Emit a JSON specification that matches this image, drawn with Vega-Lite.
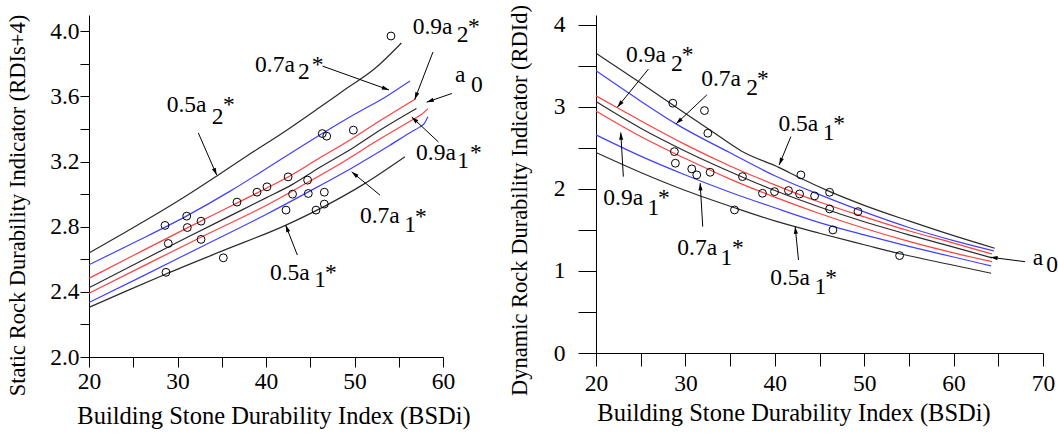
{
"$schema": "https://vega.github.io/schema/vega-lite/v6.json",
"autosize": {"type": "none"},
"padding": {"left": 89, "top": 15, "right": 969, "bottom": 419},
"background": "white",
"spacing": 153,
"bounds": "flush",
"resolve": {"scale": {"x": "independent", "y": "independent"}, "axis": {"x": "independent", "y": "independent"}},
"config": {
  "font": "'Liberation Serif', 'Times New Roman', 'DejaVu Serif', serif",
  "view": {"stroke": null},
  "axis": {"grid": false, "domainColor": "#000", "tickColor": "#000", "labelColor": "#000", "titleColor": "#000", "labelFont": "'Liberation Serif', 'Times New Roman', 'DejaVu Serif', serif", "titleFont": "'Liberation Serif', 'Times New Roman', 'DejaVu Serif', serif", "titleFontWeight": "normal", "labelFontSize": 23.5, "titleFontSize": 24.5, "domainWidth": 1, "tickWidth": 1, "labelOverlap": false, "labelFlush": false}
},
"datasets": {
  "leftCurves": [
    {"c":"0.5a2*","x":20,"y":2.638},{"c":"0.5a2*","x":24,"y":2.763},{"c":"0.5a2*","x":28,"y":2.89},{"c":"0.5a2*","x":31,"y":2.99},{"c":"0.5a2*","x":34.4,"y":3.11},{"c":"0.5a2*","x":38,"y":3.24},{"c":"0.5a2*","x":42,"y":3.38},{"c":"0.5a2*","x":46,"y":3.53},{"c":"0.5a2*","x":49,"y":3.645},{"c":"0.5a2*","x":52.3,"y":3.771},{"c":"0.5a2*","x":55.3,"y":3.928},
    {"c":"0.7a2*","x":20,"y":2.566},{"c":"0.7a2*","x":25,"y":2.70},{"c":"0.7a2*","x":31,"y":2.865},{"c":"0.7a2*","x":36,"y":3.02},{"c":"0.7a2*","x":41,"y":3.19},{"c":"0.7a2*","x":46.36,"y":3.372},{"c":"0.7a2*","x":50,"y":3.49},{"c":"0.7a2*","x":53.6,"y":3.60},{"c":"0.7a2*","x":56.27,"y":3.695},
    {"c":"0.9a2*","x":20,"y":2.483},{"c":"0.9a2*","x":25,"y":2.623},{"c":"0.9a2*","x":31,"y":2.79},{"c":"0.9a2*","x":36,"y":2.926},{"c":"0.9a2*","x":40,"y":3.035},{"c":"0.9a2*","x":42.5,"y":3.105},{"c":"0.9a2*","x":46,"y":3.22},{"c":"0.9a2*","x":50,"y":3.35},{"c":"0.9a2*","x":53,"y":3.455},{"c":"0.9a2*","x":56.9,"y":3.585},
    {"c":"a0","x":20,"y":2.425},{"c":"a0","x":25,"y":2.565},{"c":"a0","x":31,"y":2.732},{"c":"a0","x":36,"y":2.868},{"c":"a0","x":40,"y":2.977},{"c":"a0","x":43,"y":3.06},{"c":"a0","x":46,"y":3.162},{"c":"a0","x":50,"y":3.29},{"c":"a0","x":53,"y":3.397},{"c":"a0","x":57,"y":3.526},
    {"c":"0.9a1*","x":20,"y":2.391},{"c":"0.9a1*","x":26,"y":2.555},{"c":"0.9a1*","x":33,"y":2.745},{"c":"0.9a1*","x":40,"y":2.93},{"c":"0.9a1*","x":44,"y":3.05},{"c":"0.9a1*","x":48,"y":3.174},{"c":"0.9a1*","x":53,"y":3.343},{"c":"0.9a1*","x":56.5,"y":3.455},{"c":"0.9a1*","x":57.6,"y":3.49},{"c":"0.9a1*","x":58.3,"y":3.525},
    {"c":"0.7a1*","x":20,"y":2.335},{"c":"0.7a1*","x":26,"y":2.495},{"c":"0.7a1*","x":33,"y":2.685},{"c":"0.7a1*","x":40,"y":2.875},{"c":"0.7a1*","x":45,"y":3.02},{"c":"0.7a1*","x":50,"y":3.17},{"c":"0.7a1*","x":54,"y":3.30},{"c":"0.7a1*","x":56.5,"y":3.385},{"c":"0.7a1*","x":57.3,"y":3.41},{"c":"0.7a1*","x":57.9,"y":3.435},{"c":"0.7a1*","x":58.3,"y":3.475},
    {"c":"0.5a1*","x":20,"y":2.305},{"c":"0.5a1*","x":24,"y":2.40},{"c":"0.5a1*","x":28.7,"y":2.51},{"c":"0.5a1*","x":35,"y":2.65},{"c":"0.5a1*","x":42.26,"y":2.81},{"c":"0.5a1*","x":46.6,"y":2.925},{"c":"0.5a1*","x":51,"y":3.06},{"c":"0.5a1*","x":55.7,"y":3.23}
  ],
  "leftPoints": [
    {"x":28.59,"y":2.808},{"x":28.96,"y":2.697},{"x":28.70,"y":2.520},{"x":31.04,"y":2.865},{"x":31.11,"y":2.795},{"x":32.66,"y":2.834},{"x":32.66,"y":2.722},{"x":35.18,"y":2.609},{"x":36.72,"y":2.951},{"x":38.98,"y":3.012},{"x":40.11,"y":3.045},{"x":42.26,"y":2.902},{"x":43.0,"y":3.0},{"x":44.78,"y":3.004},{"x":45.65,"y":2.902},{"x":46.59,"y":3.012},{"x":46.59,"y":2.939},{"x":42.5,"y":3.106},{"x":44.7,"y":3.086},{"x":46.36,"y":3.372},{"x":46.86,"y":3.356},{"x":49.87,"y":3.393},{"x":54.12,"y":3.971}
  ],
  "leftArrows": [
    {"x":34.43,"y":3.117,"xt":32.35,"yt":3.376},
    {"x":53.9,"y":3.64,"xt":46.4,"yt":3.786},
    {"x":56.8,"y":3.581,"xt":58.87,"yt":3.873},
    {"x":58.15,"y":3.565,"xt":61.0,"yt":3.618},
    {"x":56.46,"y":3.474,"xt":59.47,"yt":3.321},
    {"x":49.68,"y":3.137,"xt":52.88,"yt":2.994},
    {"x":42.22,"y":2.81,"xt":43.54,"yt":2.626}
  ],
  "leftLabels": [
    {"x":28.78,"y":3.505,"t":"0.5a"},{"x":33.86,"y":3.429,"t":"2"},{"x":35.14,"y":3.505,"t":"*"},
    {"x":38.76,"y":3.750,"t":"0.7a"},{"x":43.62,"y":3.704,"t":"2"},{"x":45.16,"y":3.750,"t":"*"},
    {"x":56.58,"y":3.986,"t":"0.9a"},{"x":61.55,"y":3.934,"t":"2"},{"x":62.82,"y":3.986,"t":"*"},
    {"x":61.36,"y":3.687,"t":"a"},{"x":63.16,"y":3.626,"t":"0"},
    {"x":56.95,"y":3.212,"t":"0.9a"},{"x":61.61,"y":3.163,"t":"1"},{"x":63.05,"y":3.212,"t":"*"},
    {"x":50.62,"y":2.820,"t":"0.7a"},{"x":55.62,"y":2.769,"t":"1"},{"x":56.84,"y":2.816,"t":"*"},
    {"x":40.45,"y":2.472,"t":"0.5a"},{"x":45.45,"y":2.431,"t":"1"},{"x":46.67,"y":2.472,"t":"*"}
  ],
  "rightCurves": [
    {"c":"0.5a2*","x":20,"y":3.655},{"c":"0.5a2*","x":25,"y":3.29},{"c":"0.5a2*","x":30,"y":2.92},{"c":"0.5a2*","x":33,"y":2.70},{"c":"0.5a2*","x":36.3,"y":2.46},{"c":"0.5a2*","x":40.5,"y":2.26},{"c":"0.5a2*","x":42.9,"y":2.13},{"c":"0.5a2*","x":46.1,"y":1.97},{"c":"0.5a2*","x":50,"y":1.80},{"c":"0.5a2*","x":55,"y":1.61},{"c":"0.5a2*","x":60,"y":1.43},{"c":"0.5a2*","x":64.6,"y":1.277},
    {"c":"0.7a2*","x":20,"y":3.44},{"c":"0.7a2*","x":25,"y":3.07},{"c":"0.7a2*","x":29,"y":2.79},{"c":"0.7a2*","x":35,"y":2.44},{"c":"0.7a2*","x":40,"y":2.16},{"c":"0.7a2*","x":45,"y":1.93},{"c":"0.7a2*","x":50,"y":1.72},{"c":"0.7a2*","x":55,"y":1.53},{"c":"0.7a2*","x":60,"y":1.37},{"c":"0.7a2*","x":64.5,"y":1.245},
    {"c":"0.9a2*","x":20,"y":3.134},{"c":"0.9a2*","x":22.4,"y":2.99},{"c":"0.9a2*","x":25,"y":2.83},{"c":"0.9a2*","x":30,"y":2.54},{"c":"0.9a2*","x":35,"y":2.28},{"c":"0.9a2*","x":40,"y":2.05},{"c":"0.9a2*","x":45,"y":1.84},{"c":"0.9a2*","x":50,"y":1.66},{"c":"0.9a2*","x":55,"y":1.49},{"c":"0.9a2*","x":60,"y":1.34},{"c":"0.9a2*","x":64.3,"y":1.207},
    {"c":"a0","x":20,"y":3.065},{"c":"a0","x":25,"y":2.74},{"c":"a0","x":30,"y":2.46},{"c":"a0","x":35,"y":2.21},{"c":"a0","x":40,"y":1.98},{"c":"a0","x":45,"y":1.78},{"c":"a0","x":50,"y":1.60},{"c":"a0","x":55,"y":1.44},{"c":"a0","x":60,"y":1.29},{"c":"a0","x":64.3,"y":1.16},
    {"c":"0.9a1*","x":20,"y":2.951},{"c":"0.9a1*","x":25,"y":2.64},{"c":"0.9a1*","x":30,"y":2.37},{"c":"0.9a1*","x":35,"y":2.12},{"c":"0.9a1*","x":40,"y":1.90},{"c":"0.9a1*","x":45,"y":1.70},{"c":"0.9a1*","x":50,"y":1.52},{"c":"0.9a1*","x":55,"y":1.36},{"c":"0.9a1*","x":60,"y":1.22},{"c":"0.9a1*","x":64.3,"y":1.113},
    {"c":"0.7a1*","x":20,"y":2.659},{"c":"0.7a1*","x":25,"y":2.40},{"c":"0.7a1*","x":30,"y":2.17},{"c":"0.7a1*","x":35,"y":1.96},{"c":"0.7a1*","x":40,"y":1.77},{"c":"0.7a1*","x":45,"y":1.59},{"c":"0.7a1*","x":50,"y":1.44},{"c":"0.7a1*","x":55,"y":1.30},{"c":"0.7a1*","x":60,"y":1.17},{"c":"0.7a1*","x":64.2,"y":1.061},
    {"c":"0.5a1*","x":20,"y":2.443},{"c":"0.5a1*","x":25,"y":2.20},{"c":"0.5a1*","x":30,"y":1.98},{"c":"0.5a1*","x":35.5,"y":1.77},{"c":"0.5a1*","x":40,"y":1.61},{"c":"0.5a1*","x":45,"y":1.46},{"c":"0.5a1*","x":50,"y":1.32},{"c":"0.5a1*","x":54,"y":1.21},{"c":"0.5a1*","x":60,"y":1.07},{"c":"0.5a1*","x":64.2,"y":0.972}
  ],
  "rightPoints": [
    {"x":28.59,"y":3.045},{"x":32.13,"y":2.955},{"x":32.51,"y":2.679},{"x":28.77,"y":2.455},{"x":28.88,"y":2.313},{"x":30.71,"y":2.244},{"x":31.27,"y":2.171},{"x":32.77,"y":2.203},{"x":36.38,"y":2.150},{"x":42.92,"y":2.171},{"x":35.49,"y":1.744},{"x":38.62,"y":1.947},{"x":39.97,"y":1.967},{"x":41.53,"y":1.980},{"x":42.77,"y":1.939},{"x":44.45,"y":1.915},{"x":46.13,"y":1.959},{"x":46.13,"y":1.756},{"x":46.50,"y":1.500},{"x":49.30,"y":1.723},{"x":53.96,"y":1.187}
  ],
  "rightArrows": [
    {"x":22.39,"y":2.996,"xt":25.86,"yt":3.46},
    {"x":28.96,"y":2.793,"xt":32.4,"yt":3.146},
    {"x":40.49,"y":2.293,"xt":41.8,"yt":2.638},
    {"x":22.77,"y":2.687,"xt":23.06,"yt":2.15},
    {"x":31.65,"y":2.07,"xt":31.94,"yt":1.54},
    {"x":42.28,"y":1.54,"xt":42.65,"yt":1.134},
    {"x":64.12,"y":1.167,"xt":68.0,"yt":1.113}
  ],
  "rightLabels": [
    {"x":23.36,"y":3.552,"t":"0.9a"},{"x":28.40,"y":3.439,"t":"2"},{"x":29.60,"y":3.549,"t":"*"},
    {"x":31.76,"y":3.256,"t":"0.7a"},{"x":36.80,"y":3.146,"t":"2"},{"x":38.0,"y":3.256,"t":"*"},
    {"x":40.41,"y":2.711,"t":"0.5a"},{"x":45.36,"y":2.598,"t":"1"},{"x":46.54,"y":2.707,"t":"*"},
    {"x":20.82,"y":1.805,"t":"0.9a"},{"x":25.77,"y":1.683,"t":"1"},{"x":26.94,"y":1.805,"t":"*"},
    {"x":29.10,"y":1.195,"t":"0.7a"},{"x":33.94,"y":1.073,"t":"1"},{"x":35.20,"y":1.195,"t":"*"},
    {"x":39.49,"y":0.829,"t":"0.5a"},{"x":44.43,"y":0.716,"t":"1"},{"x":45.64,"y":0.829,"t":"*"},
    {"x":68.85,"y":1.073,"t":"a"},{"x":70.35,"y":0.988,"t":"0"}
  ]
},
"hconcat": [
  {
    "width": 354, "height": 342,
    "encoding": {
      "x": {"field": "x", "type": "quantitative", "scale": {"domain": [20, 60], "nice": false, "zero": false},
        "axis": {"values": [20,25,30,35,40,45,50,55,60], "labelExpr": "datum.value % 10 == 0 ? format(datum.value, 'd') : ''", "tickSize": 10, "labelPadding": 21, "labelBaseline": "alphabetic", "title": "Building Stone Durability Index (BSDi)", "titleX": 184.5, "titleY": 66, "titleAlign": "center", "titleBaseline": "alphabetic"}},
      "y": {"field": "y", "type": "quantitative", "scale": {"domain": [2.0, 4.1], "nice": false, "zero": false},
        "axis": {"values": [2.0,2.2,2.4,2.6,2.8,3.0,3.2,3.4,3.6,3.8,4.0], "labelExpr": "round(datum.value*10) % 4 == 0 ? format(datum.value, '.1f') : ''", "tickSize": 9, "labelPadding": 1, "title": "Static Rock Durability Indicator (RDIs+4)", "titleFontSize": 22.5, "titleX": -72, "titleY": 190, "titleAngle": -90, "titleAlign": "center", "titleBaseline": "middle"}}
    },
    "layer": [
      {"data": {"name": "leftCurves"}, "mark": {"type": "line", "strokeWidth": 1.2, "interpolate": "monotone"},
       "encoding": {"color": {"field": "c", "type": "nominal", "legend": null, "scale": {"domain": ["0.5a2*","0.7a2*","0.9a2*","a0","0.9a1*","0.7a1*","0.5a1*"], "range": ["#2b2b2b","#4040ff","#ff4040","#2b2b2b","#ff4040","#4040ff","#2b2b2b"]}}}},
      {"data": {"name": "leftPoints"}, "mark": {"type": "point", "shape": "circle", "filled": false, "size": 62, "stroke": "#000", "strokeWidth": 1, "opacity": 1}},
      {"data": {"name": "leftArrows"}, "mark": {"type": "rule", "color": "#000", "strokeWidth": 1},
       "encoding": {"x2": {"field": "xt"}, "y2": {"field": "yt"}}},
      {"data": {"name": "leftArrows"}, "transform": [{"calculate": "atan2((datum.x - datum.xt) * 8.85, (datum.y - datum.yt) * 163) * 180 / PI", "as": "ang"}],
       "mark": {"type": "point", "shape": "M0,0L-0.7,2.4L0.7,2.4Z", "filled": true, "size": 36, "color": "#000", "opacity": 1, "strokeWidth": 0},
       "encoding": {"angle": {"field": "ang", "type": "quantitative", "scale": null}}},
      {"data": {"name": "leftLabels"}, "mark": {"type": "text", "align": "left", "baseline": "alphabetic", "fontSize": 23.5, "font": "'Liberation Serif', 'Times New Roman', 'DejaVu Serif', serif", "color": "#000"},
       "encoding": {"text": {"field": "t"}}}
    ]
  },
  {
    "width": 447, "height": 338,
    "encoding": {
      "x": {"field": "x", "type": "quantitative", "scale": {"domain": [20, 70], "nice": false, "zero": false},
        "axis": {"values": [20,25,30,35,40,45,50,55,60,65,70], "labelExpr": "datum.value % 10 == 0 ? format(datum.value, 'd') : ''", "tickSize": 13, "labelPadding": 24, "labelBaseline": "alphabetic", "title": "Building Stone Durability Index (BSDi)", "titleX": 197.5, "titleY": 67, "titleAlign": "center", "titleBaseline": "alphabetic"}},
      "y": {"field": "y", "type": "quantitative", "scale": {"domain": [0, 4.12], "nice": false, "zero": false},
        "axis": {"values": [0,0.5,1,1.5,2,2.5,3,3.5,4], "labelExpr": "datum.value % 1 == 0 ? format(datum.value, 'd') : ''", "tickSize": 18, "labelPadding": 13, "title": "Dynamic Rock Durability Indicator (RDId)", "titleFontSize": 22.5, "titleX": -77, "titleY": 185, "titleAngle": -90, "titleAlign": "center", "titleBaseline": "middle"}}
    },
    "layer": [
      {"data": {"name": "rightCurves"}, "mark": {"type": "line", "strokeWidth": 1.2, "interpolate": "monotone"},
       "encoding": {"color": {"field": "c", "type": "nominal", "legend": null, "scale": {"domain": ["0.5a2*","0.7a2*","0.9a2*","a0","0.9a1*","0.7a1*","0.5a1*"], "range": ["#2b2b2b","#4040ff","#ff4040","#2b2b2b","#ff4040","#4040ff","#2b2b2b"]}}}},
      {"data": {"name": "rightPoints"}, "mark": {"type": "point", "shape": "circle", "filled": false, "size": 62, "stroke": "#000", "strokeWidth": 1, "opacity": 1}},
      {"data": {"name": "rightArrows"}, "mark": {"type": "rule", "color": "#000", "strokeWidth": 1},
       "encoding": {"x2": {"field": "xt"}, "y2": {"field": "yt"}}},
      {"data": {"name": "rightArrows"}, "transform": [{"calculate": "atan2((datum.x - datum.xt) * 8.94, (datum.y - datum.yt) * 82) * 180 / PI", "as": "ang"}],
       "mark": {"type": "point", "shape": "M0,0L-0.7,2.4L0.7,2.4Z", "filled": true, "size": 36, "color": "#000", "opacity": 1, "strokeWidth": 0},
       "encoding": {"angle": {"field": "ang", "type": "quantitative", "scale": null}}},
      {"data": {"name": "rightLabels"}, "mark": {"type": "text", "align": "left", "baseline": "alphabetic", "fontSize": 23.5, "font": "'Liberation Serif', 'Times New Roman', 'DejaVu Serif', serif", "color": "#000"},
       "encoding": {"text": {"field": "t"}}}
    ]
  }
]
}
